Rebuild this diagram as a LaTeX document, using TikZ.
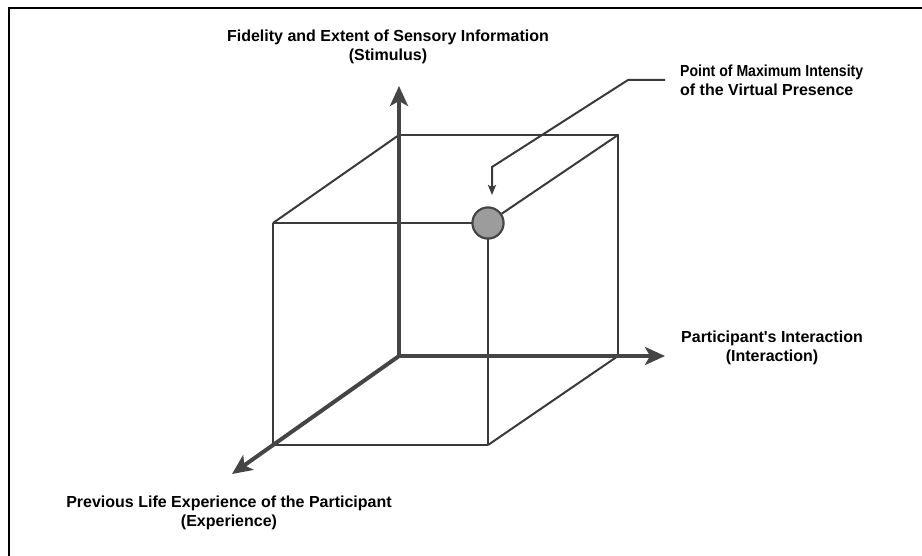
\documentclass[tikz,border=0pt]{standalone}
\usepackage{fontspec}
\setmainfont{Liberation Sans}
\usetikzlibrary{arrows.meta}
\definecolor{linegray}{HTML}{3A3A3A}
\definecolor{axisgray}{HTML}{454545}
\definecolor{dotgray}{HTML}{9C9C9C}
\begin{document}
\begin{tikzpicture}[x=1pt,y=-1pt,
  lbl/.style={font=\bfseries\fontsize{16}{19}\selectfont, align=center, inner sep=0pt, text=black},
  edge/.style={draw=linegray, line width=2pt},
  axisline/.style={draw=axisgray, line width=4pt, -{Stealth[length=20pt,width=18pt,inset=5pt]}},
  callout/.style={draw=linegray, line width=2pt, -{Stealth[length=10pt,width=8pt,inset=2pt]}},
  framestyle/.style={draw=black, line width=2.2pt},
  dot/.style={circle, draw=axisgray, line width=2pt, fill=dotgray, minimum size=31pt, inner sep=0pt}
]
\useasboundingbox (0,0) rectangle (922,556);
% frame (top and left only)
\draw[framestyle] (9,556) -- (9,8) -- (922,8);

% cube corners
\coordinate (O) at (399,356);
\coordinate (BTL) at (399,135);
\coordinate (BTR) at (618,135);
\coordinate (BBR) at (618,356);
\coordinate (FTL) at (273,223);
\coordinate (FBL) at (273,445);
\coordinate (FBR) at (488,445);
\node[dot] (P) at (488,223) {};

% axis tips
\coordinate (Ytip) at (399,86);
\coordinate (Xtip) at (665,356);
\coordinate (Ztip) at (232,474);

% thin cube edges
\draw[edge] (BTL) -- (BTR) -- (BBR);
\draw[edge] (FTL) -- (BTL);
\draw[edge] (FTL) -- (P.west);
\draw[edge] (FTL) -- (FBL) -- (FBR);
\draw[edge] (P.south) -- (FBR);
\draw[edge] (FBR) -- (BBR);
\draw[edge] (P) -- (BTR);

% axes
\draw[axisline] (O) -- (Ytip);
\draw[axisline] (O) -- (Xtip);
\draw[axisline] (O) -- (Ztip);

% redraw dot on top
\node[dot] at (P) {};

% callout
\coordinate (c1) at (665,80);
\coordinate (c2) at (628,80);
\coordinate (c3) at (492,167);
\coordinate (c4) at (492,195);
\draw[callout] (c1) -- (c2) -- (c3) -- (c4);

% labels
\node[lbl] (ylab) at (388,47) {Fidelity and Extent of Sensory Information\\(Stimulus)};
\node[lbl, align=left, anchor=west] (plab) at (680,80) {\scalebox{0.88}[1]{Point of Maximum Intensity}\\of the Virtual Presence};
\node[lbl] (xlab) at (772,348) {Participant\textquotesingle s Interaction\\(Interaction)};
\node[lbl] (zlab) at (229,513) {Previous Life Experience of the Participant\\(Experience)};
\end{tikzpicture}
\end{document}
